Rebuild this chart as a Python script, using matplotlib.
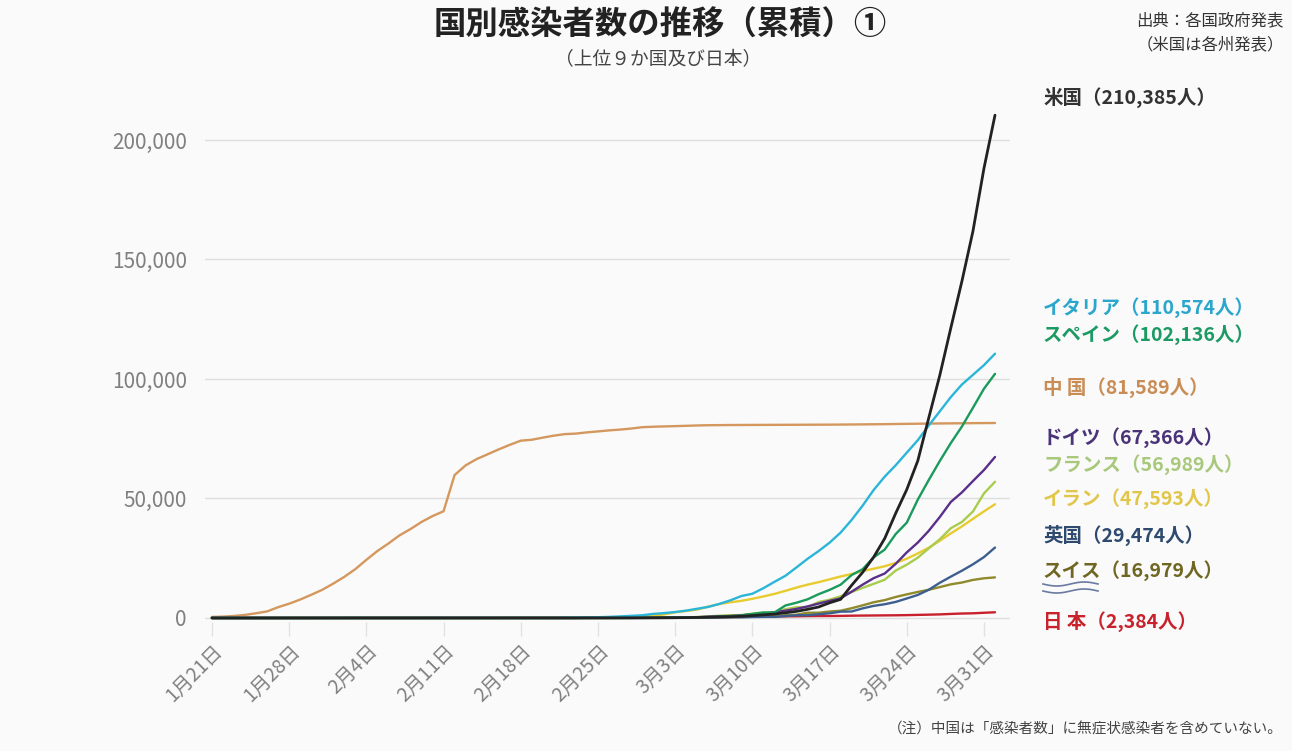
import matplotlib.pyplot as plt
import matplotlib.transforms as mtransforms
import pandas as pd
import numpy as np
from matplotlib.ticker import FuncFormatter
from matplotlib.lines import Line2D

# cumulative cases, daily from 1/21 to 4/1
dates = pd.date_range('2020-01-21', '2020-04-01')

china = [440, 571, 830, 1287, 1975, 2744, 4515, 5974, 7711, 9692, 11791,
         14380, 17205, 20438, 24324, 28018, 31161, 34546, 37198, 40171, 42638,
         44653, 59804, 63851, 66492, 68500, 70548, 72436, 74185, 74576, 75465,
         76288, 76936, 77150, 77658, 78064, 78497, 78824, 79251, 79824,
         80026, 80151, 80270, 80409, 80552, 80651, 80695, 80735, 80754, 80778,
         80793, 80813, 80824, 80844, 80860, 80881, 80894, 80928, 80967, 81008,
         81054, 81093, 81171, 81218, 81285, 81340, 81394, 81439, 81470, 81518, 81554,
         81589]
usa = [1, 1, 1, 2, 2, 5, 5, 5, 5, 6, 7,
       8, 8, 11, 11, 12, 12, 12, 12, 12, 12,
       13, 13, 14, 14, 15, 15, 15, 15, 15, 15,
       15, 15, 15, 53, 53, 59, 60, 62, 68,
       75, 100, 124, 158, 221, 319, 435, 541, 704, 994,
       1301, 1630, 2183, 2770, 3613, 4596, 6344, 7783, 13677, 19100,
       25489, 33276, 43847, 53740, 65778, 83836, 101657, 121465, 140909, 161831, 188172,
       210385]
italy = [0, 0, 0, 0, 0, 0, 0, 0, 0, 0, 2,
         2, 2, 2, 2, 2, 3, 3, 3, 3, 3,
         3, 3, 3, 3, 3, 3, 3, 3, 3, 3,
         20, 62, 155, 229, 322, 453, 655, 888, 1128,
         1694, 2036, 2502, 3089, 3858, 4636, 5883, 7375, 9172, 10149,
         12462, 15113, 17660, 21157, 24747, 27980, 31506, 35713, 41035, 47021,
         53578, 59138, 63927, 69176, 74386, 80589, 86498, 92472, 97689, 101739, 105792,
         110574]
spain = [0, 0, 0, 0, 0, 0, 0, 0, 0, 0, 0,
         1, 1, 1, 1, 1, 1, 1, 1, 2, 2,
         2, 2, 2, 2, 2, 2, 2, 2, 2, 2,
         2, 2, 2, 2, 6, 13, 15, 32, 45,
         84, 120, 165, 222, 259, 400, 500, 673, 1073, 1695,
         2277, 2277, 5232, 6391, 7798, 9942, 11748, 13910, 17963, 20410,
         25374, 28603, 35136, 39885, 49515, 57786, 65719, 73235, 80110, 87956, 95923,
         102136]
germany = [0, 0, 0, 0, 0, 0, 1, 4, 4, 4, 5,
           8, 10, 12, 12, 12, 12, 13, 13, 14, 14,
           16, 16, 16, 16, 16, 16, 16, 16, 16, 16,
           16, 16, 16, 16, 17, 27, 46, 48, 79,
           117, 150, 188, 240, 349, 534, 684, 847, 1112, 1460,
           1884, 2369, 3062, 3795, 4838, 6012, 7156, 8198, 10999, 13957,
           16662, 18610, 22672, 27436, 31554, 36508, 42288, 48582, 52547, 57298, 61913,
           67366]
france = [0, 0, 0, 2, 3, 3, 3, 4, 5, 5, 5,
          6, 6, 6, 6, 6, 6, 6, 11, 11, 11,
          11, 11, 11, 11, 12, 12, 12, 12, 12, 12,
          12, 12, 12, 12, 14, 18, 38, 57, 100,
          130, 191, 204, 288, 380, 656, 957, 1134, 1217, 1792,
          2289, 2289, 3672, 4480, 4513, 6650, 7652, 9043, 10871, 12612,
          14282, 16018, 19856, 22304, 25233, 29155, 32964, 37575, 40174, 44550, 52128,
          56989]
iran = [0, 0, 0, 0, 0, 0, 0, 0, 0, 0, 0,
        0, 0, 0, 0, 0, 0, 0, 0, 0, 0,
        0, 0, 0, 0, 0, 0, 0, 0, 2, 5,
        18, 28, 43, 61, 95, 139, 245, 388, 593,
        978, 1501, 2336, 2922, 3513, 4747, 5823, 6566, 7161, 8042,
        9000, 10075, 11364, 12729, 13938, 14991, 16169, 17361, 18407, 19644,
        20610, 21638, 23049, 24811, 27017, 29406, 32332, 35408, 38309, 41495, 44605,
        47593]
uk = [0, 0, 0, 0, 0, 0, 0, 0, 0, 0, 2,
      2, 2, 2, 2, 2, 2, 3, 3, 3, 8,
      8, 8, 9, 9, 9, 9, 9, 9, 9, 9,
      9, 9, 9, 13, 13, 13, 15, 20, 23,
      36, 40, 51, 86, 116, 164, 207, 274, 322, 384,
      459, 459, 802, 1144, 1145, 1551, 1960, 2642, 2716, 4014,
      5067, 5745, 6726, 8164, 9640, 11812, 14745, 17312, 19780, 22453, 25481,
      29474]
swiss = [0, 0, 0, 0, 0, 0, 0, 0, 0, 0, 0,
         0, 0, 0, 0, 0, 0, 0, 0, 0, 0,
         0, 0, 0, 0, 0, 0, 0, 0, 0, 0,
         0, 0, 0, 0, 1, 1, 8, 8, 18,
         27, 42, 56, 90, 114, 214, 268, 337, 374, 491,
         652, 652, 1139, 1359, 2200, 2200, 2700, 3028, 4075, 5294,
         6575, 7474, 8795, 9877, 10897, 11811, 12928, 14076, 14829, 15922, 16605,
         16979]
japan = [1, 1, 1, 2, 2, 4, 4, 7, 7, 11, 15,
         20, 20, 20, 22, 22, 25, 25, 25, 25, 26,
         28, 28, 29, 33, 41, 53, 59, 65, 73, 85,
         93, 105, 132, 144, 156, 164, 186, 210, 230,
         239, 254, 268, 284, 317, 349, 408, 455, 488, 514,
         568, 620, 675, 716, 780, 814, 829, 873, 950, 1007,
         1046, 1089, 1128, 1193, 1291, 1387, 1499, 1693, 1866, 1953, 2178,
         2384]

# drawing order: first is at the bottom
series = [china, japan, swiss, uk, iran, france, germany, spain, italy, usa]
line_colors = ['#d4975e', '#c8202c', '#8f8a2c', '#3d5f8f', '#e8cb2e',
               '#a9cc4c', '#5a2f8a', '#1a9a5c', '#2bb5d8', '#222222']

labels = ['米国（210,385人）', 'イタリア（110,574人）', 'スペイン（102,136人）',
          '中 国（81,589人）', 'ドイツ（67,366人）', 'フランス（56,989人）',
          'イラン（47,593人）', '英国（29,474人）', 'スイス（16,979人）',
          '日 本（2,384人）']
label_colors = ['#333333', '#2ba6cc', '#1c9a63', '#c98c55', '#4a3378',
                '#a8c87c', '#e2c64a', '#2e4a6e', '#6f6622', '#c8232c']
label_y = [97, 308, 335, 387, 438, 465, 499, 535, 571, 621]   # pixel rows

yticks = [0, 50000, 100000, 150000, 200000]
xticks = pd.date_range('2020-01-21', '2020-03-31', freq='7D')
xtick_labels = [f'{d.month}月{d.day}日' for d in xticks]

plt.rcParams['font.family'] = ['Noto Sans CJK JP', 'DejaVu Sans']

W, H = 1292, 751
bg = '#fafafa'
fig = plt.figure(figsize=(W / 100, H / 100), dpi=100, facecolor=bg)
ax = fig.add_axes([205 / W, (H - 621.8) / H, 805 / W, 529.6 / H])
ax.set_facecolor(bg)

for s, c in zip(series, line_colors):
    ax.plot(dates, s, color=c, lw=2.0 if c == '#222222' else 1.7,
            solid_capstyle='round', clip_on=False)

ax.set_xlim(dates[0] - pd.Timedelta(days=0.63), dates[-1] + pd.Timedelta(days=1.36))
ax.set_ylim(-1600, 220000)
ax.set_yticks(yticks)
ax.yaxis.set_major_formatter(FuncFormatter(lambda v, p: f'{int(v):,}'))
ax.set_xticks(xticks)
ax.set_xticklabels(xtick_labels, rotation=45, ha='right', va='center',
                   rotation_mode='anchor')
ax.tick_params(axis='y', length=0, pad=13, labelsize=15, labelcolor='#808080')
ax.tick_params(axis='x', length=10, width=1, color='#e2e2e2', pad=6,
               labelsize=14, labelcolor='#808080')
shift = mtransforms.ScaledTranslation(8 / 100, -4 / 100, fig.dpi_scale_trans)
for lab in ax.get_xticklabels():
    lab.set_transform(lab.get_transform() + shift)
ax.grid(axis='y', color='#dedede', lw=1)
ax.set_axisbelow(True)
for sp in ax.spines.values():
    sp.set_visible(False)

# titles and notes
fig.text(660 / W, 1 - 25 / H, '国別感染者数の推移（累積）①', ha='center', va='center',
         fontsize=23.3, fontweight='bold', color='#222222')
fig.text(658 / W, 1 - 60 / H, '（上位９か国及び日本）', ha='center', va='center',
         fontsize=13.5, color='#444444')
fig.text(1210 / W, 1 - 21 / H, '出典：各国政府発表', ha='center', va='center',
         fontsize=11.8, color='#333333')
fig.text(1210 / W, 1 - 45 / H, '（米国は各州発表）', ha='center', va='center',
         fontsize=11.8, color='#333333')
fig.text(1283 / W, 1 - 730 / H, '（注）中国は「感染者数」に無症状感染者を含めていない。',
         ha='right', va='center', fontsize=10.5, color='#444444')

# end labels
for t, c, py in zip(labels, label_colors, label_y):
    fig.text(1043 / W, 1 - py / H, t, ha='left', va='center', fontsize=14,
             fontweight='bold', color=c)

# wavy underline under スイス
wx = np.linspace(1043, 1098, 60)
for base in (584, 591):
    wy = base + 2 * np.sin((wx - 1043) / 55 * 2 * np.pi)
    fig.add_artist(Line2D(wx / W, 1 - wy / H, transform=fig.transFigure,
                          color='#6a7aa0', lw=1.2))

fig.savefig('out.png', dpi=100, facecolor=bg)
